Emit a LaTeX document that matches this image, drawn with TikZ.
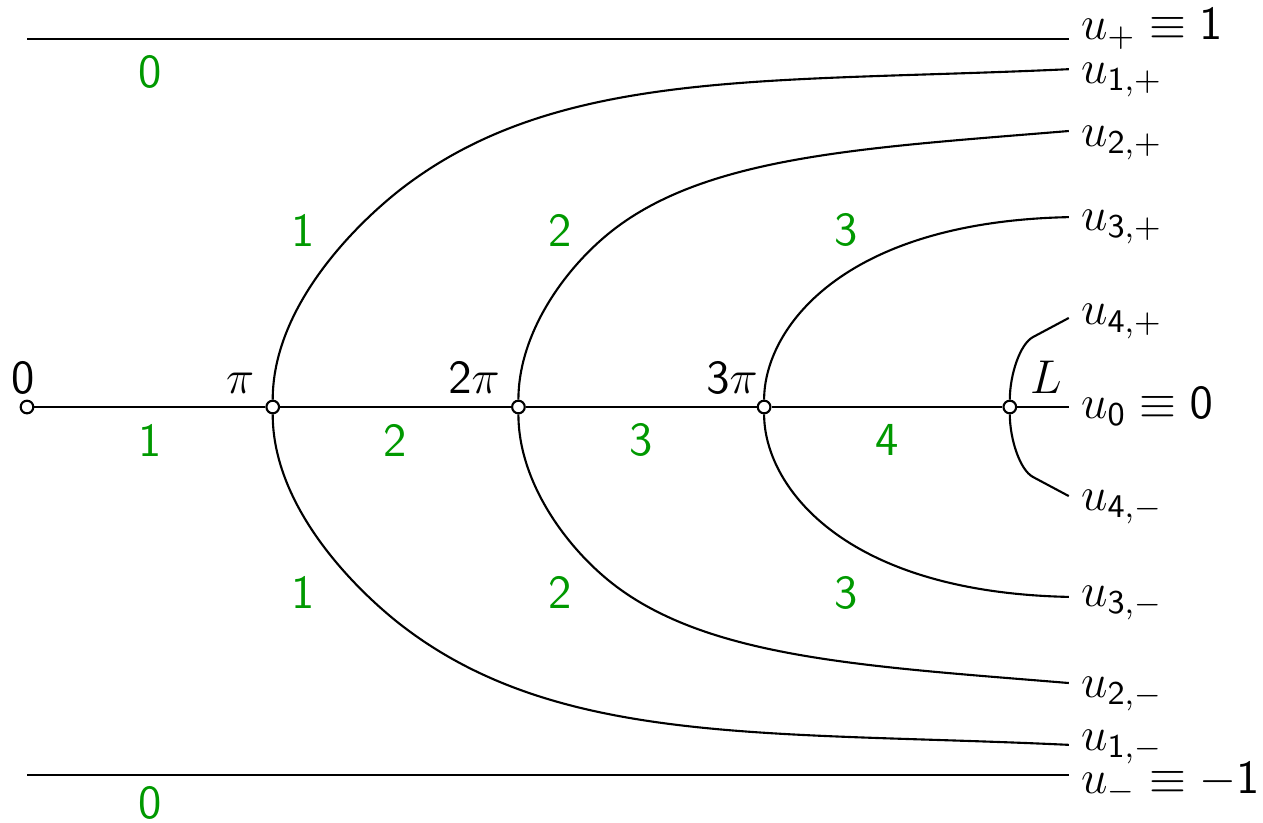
\RequirePackage{fix-cm}
\documentclass[tikz,border=0pt]{standalone}
\SetSymbolFont{operators}{normal}{OT1}{cmss}{m}{n}
\newcommand\lblsize{\fontsize{13.5}{16}\selectfont}

\begin{document}
\begin{tikzpicture}[
    x=2.457cm, y=3.68cm,
    bif node/.style={circle, draw=black, fill=white, line width=0.6pt, inner sep=0pt, minimum size=3.6pt},
    mode label/.style={text=green!60!black, font=\sffamily\lblsize},
    end label/.style={anchor=base west, font=\lblsize},
    pt label/.style={anchor=base, font=\lblsize},
    main edge/.style={line width=0.6pt, draw=black}
]
\useasboundingbox (-0.1099,-1.1277) rectangle (5.0305,1.106);

% Verzweigungspunkte auf u = 0
\node[bif node] (o0) at (0,0) {};
\node[bif node] (o1) at (1,0) {};
\node[bif node] (o2) at (2,0) {};
\node[bif node] (o3) at (3,0) {};
\node[bif node] (oL) at (4,0) {};

\node[pt label] (t0) at (-0.016,0.038) {\sffamily 0};
\node[pt label] (t1) at (0.867,0.038) {$\pi$};
\node[pt label] (t2) at (1.819,0.038) {$2\pi$};
\node[pt label] (t3) at (2.869,0.038) {$3\pi$};
\node[pt label] (tL) at (4.147,0.038) {$L$};

% Enden rechts
\coordinate (topL) at (0,1);
\coordinate (topR) at (4.24,1);
\coordinate (botL) at (0,-1);
\coordinate (botR) at (4.24,-1);
\coordinate (e0) at (4.24,0);
\coordinate (e1p) at (4.24,0.918);  \coordinate (e1m) at (4.24,-0.918);
\coordinate (e2p) at (4.24,0.750);  \coordinate (e2m) at (4.24,-0.750);
\coordinate (e3p) at (4.24,0.516);  \coordinate (e3m) at (4.24,-0.516);
\coordinate (e4p) at (4.24,0.242);  \coordinate (e4m) at (4.24,-0.242);

% triviale Loesungen
\draw[main edge] (topL) -- (topR);
\draw[main edge] (botL) -- (botR);
\draw[main edge] (o0) -- (o1) -- (o2) -- (o3) -- (oL) -- (e0);

% Aeste u_{n,+} und u_{n,-}
\foreach \s/\t in {1/p,-1/m} {
  \draw[main edge] (o1) .. controls (1,\s*0.269) and (1.326,\s*0.489) .. (1.518,\s*0.590)
      .. controls (2.160,\s*0.924) and (3.016,\s*0.880) .. (e1\t);
  \draw[main edge] (o2) .. controls (2,\s*0.209) and (2.206,\s*0.392) .. (2.401,\s*0.489)
      .. controls (2.793,\s*0.684) and (3.426,\s*0.705) .. (e2\t);
  \draw[main edge] (o3) .. controls (3,\s*0.209) and (3.309,\s*0.503) .. (e3\t);
  \draw[main edge] (oL) .. controls (4,\s*0.087) and (4.041,\s*0.171) .. (4.094,\s*0.190) -- (e4\t);
}

% Beschriftung rechts
\node[end label] (lp)  at (4.24,1.000)  {$u_+\equiv 1$};
\node[end label] (l1p) at (4.24,0.880)  {$u_{1,+}$};
\node[end label] (l2p) at (4.24,0.707)  {$u_{2,+}$};
\node[end label] (l3p) at (4.24,0.481)  {$u_{3,+}$};
\node[end label] (l4p) at (4.24,0.223)  {$u_{4,+}$};
\node[end label] (l0)  at (4.24,-0.030) {$u_0\equiv 0$};
\node[end label] (l4m) at (4.24,-0.280) {$u_{4,-}$};
\node[end label] (l3m) at (4.24,-0.543) {$u_{3,-}$};
\node[end label] (l2m) at (4.24,-0.788) {$u_{2,-}$};
\node[end label] (l1m) at (4.24,-0.932) {$u_{1,-}$};
\node[end label] (lm)  at (4.24,-1.049) {$u_-\equiv -1$};

% Anzahl der Nullstellen (gruen)
\node[mode label] (zt) at (0.5,0.910)  {0};
\node[mode label] (zb) at (0.5,-1.076) {0};
\foreach \n in {1,2,3,4}
  \node[mode label] (za\n) at (\n-0.5,-0.09) {\n};
\foreach \n/\x in {1/1.123, 2/2.169, 3/3.333} {
  \node[mode label] (zu\n) at (\x,0.481)  {\n};
  \node[mode label] (zl\n) at (\x,-0.505) {\n};
}

\end{tikzpicture}
\end{document}
